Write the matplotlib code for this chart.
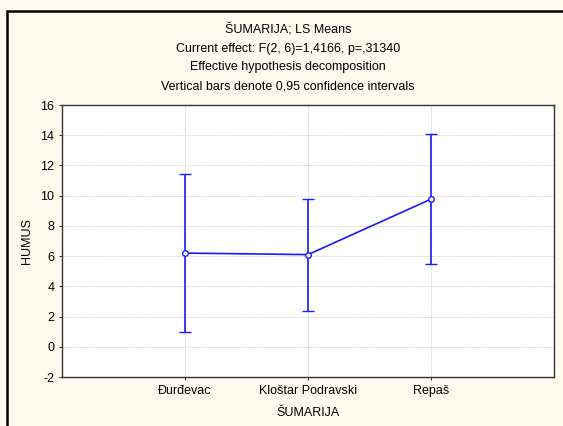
import matplotlib

matplotlib.use("Agg")
import matplotlib.pyplot as plt
from matplotlib.patches import Rectangle

plt.rcParams["font.family"] = ["Liberation Sans", "DejaVu Sans"]

categories = ["Đurđevac", "Kloštar Podravski", "Repaš"]
means = [6.2, 6.1, 9.77]
ci_half = [5.22, 3.7, 4.3]
y_ticks = [-2, 0, 2, 4, 6, 8, 10, 12, 14, 16]

title_lines = [
    "ŠUMARIJA; LS Means",
    "Current effect: F(2, 6)=1,4166, p=,31340",
    "Effective hypothesis decomposition",
    "Vertical bars denote 0,95 confidence intervals",
]

BG = "#FFF9EE"
BLUE = "#1a1aff"

fig = plt.figure(figsize=(5.63, 4.26), dpi=100, facecolor=BG)
W, H = 563, 426

# outer frame (cut by the image edge on the right and bottom)
fig.patches.append(
    Rectangle((7.5 / W, -0.05), 1.2, 1.05 - 11 / H, transform=fig.transFigure,
              fill=False, edgecolor="black", linewidth=1.8, zorder=0)
)

ax = fig.add_axes([62 / W, 1 - 377 / H, (554 - 62) / W, (377 - 105) / H])
ax.set_facecolor("white")

x = list(range(1, len(categories) + 1))
ax.errorbar(x, means, yerr=ci_half, color=BLUE, linewidth=1.2, capsize=4,
            capthick=1.2, marker="o", markersize=4, markerfacecolor="white",
            markeredgecolor=BLUE, markeredgewidth=1.0, zorder=3)

ax.set_xlim(0, 4)
ax.set_ylim(-2, 16)
ax.set_xticks(x)
ax.set_xticklabels(categories, fontsize=9)
ax.set_yticks(y_ticks)
ax.set_yticklabels([str(v) for v in y_ticks], fontsize=9)
ax.tick_params(direction="out", length=2.5, width=0.8, color="#333333", pad=3)
ax.grid(True, color="#d2d2d2", linestyle=(0, (1, 0.8)), linewidth=0.7)
ax.set_axisbelow(True)
for sp in ax.spines.values():
    sp.set_color("#333333")
    sp.set_linewidth(1.0)

ax.set_xlabel("ŠUMARIJA", fontsize=9)
ax.xaxis.set_label_coords(0.5, -(413 - 377) / 272)
ax.set_ylabel("HUMUS", fontsize=9)
ax.yaxis.set_label_coords(-(62 - 27) / 492, 0.5)
ax.yaxis.label.set_va("center")
ax.xaxis.label.set_va("center")

for i, line in enumerate(title_lines):
    fig.text(288 / W, 1 - (30 + 18.7 * i) / H, line,
             ha="center", va="center", fontsize=9)

fig.savefig("out.png", dpi=100, facecolor=BG)
